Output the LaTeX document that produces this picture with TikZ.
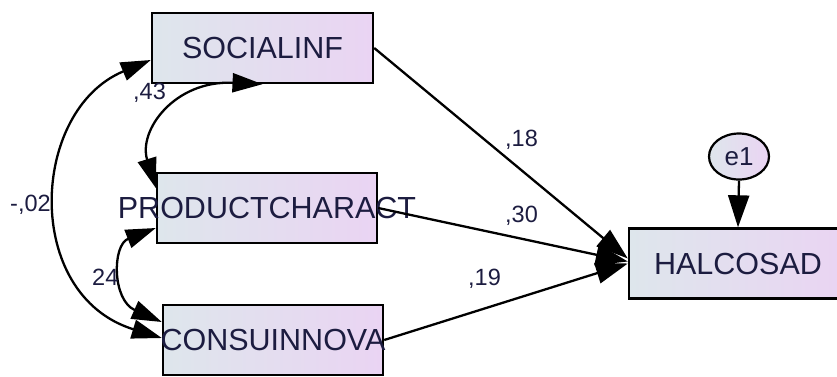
\documentclass[tikz,border=0pt]{standalone}
\usepackage{fontspec}
\setmainfont{Liberation Sans}
\usetikzlibrary{arrows.meta,shapes.geometric}
\definecolor{boxL}{RGB}{222,230,236}
\definecolor{boxR}{RGB}{234,212,243}
\definecolor{txt}{RGB}{28,28,64}
\begin{document}
\begin{tikzpicture}[x=1pt,y=-1pt,
  var/.style={draw=black, line width=2.4pt, left color=boxL, right color=boxR,
    minimum width=#1, minimum height=70pt, inner sep=0pt,
    font=\fontsize{30.5}{31}\selectfont, text=txt},
  err/.style={ellipse, draw=black, line width=2.2pt, left color=boxL, right color=boxR,
    minimum width=60pt, minimum height=46pt, inner sep=0pt,
    font=\fontsize{26}{27}\selectfont, text=txt},
  reg/.style={line width=2.3pt, -{Triangle[length=32pt,width=21pt]}},
  cov/.style={line width=2.3pt, {Triangle[length=30pt,width=19pt]}-{Triangle[length=30pt,width=19pt]}},
  lab/.style={anchor=base west, inner sep=0pt, font=\fontsize{23.5}{24}\selectfont, text=txt}]
\useasboundingbox (0,0) rectangle (837,376);
\clip (0,0) rectangle (837,376);
% boxes
\node[var=221pt] (S) at (262.5,48) {\makebox[0pt]{SOCIALINF}};
\node[var=220pt] (P) at (267,208) {\makebox[0pt]{PRODUCTCHARACT}};
\node[var=220pt] (C) at (273,340) {\makebox[0pt]{CONSUINNOVA}};
\node[var=218pt] (H) at (738,263.5) {\makebox[0pt]{HALCOSAD}};
\node[err] (E) at (739,156.5) {e1};
% regressions
\draw[reg] (S.east) -- ([yshift=5pt]H.west);
\draw[reg] (P.east) -- ([yshift=2pt]H.west);
\draw[reg] (C.east) -- (H.west);
\draw[reg] (E.south) -- (H.north);
% covariances
\draw[cov] (S.south) .. controls (175,80) and (138,130) .. ([yshift=20pt]P.west);
\draw[cov] ([yshift=-12pt]S.west) .. controls (30,110) and (22,295) .. ([yshift=2pt]C.west);
\draw[cov] ([yshift=-20pt]P.west) .. controls (112,245) and (112,300) .. ([yshift=18pt]C.west);
% labels
\node[lab] (l43) at (133,99) {,43};
\node[lab] (l02) at (10,211) {-,02};
\node[lab] (l24) at (92,285) {24};
\node[lab] (l18) at (505,146) {,18};
\node[lab] (l30) at (505,222) {,30};
\node[lab] (l19) at (468,285) {,19};
\end{tikzpicture}
\end{document}
